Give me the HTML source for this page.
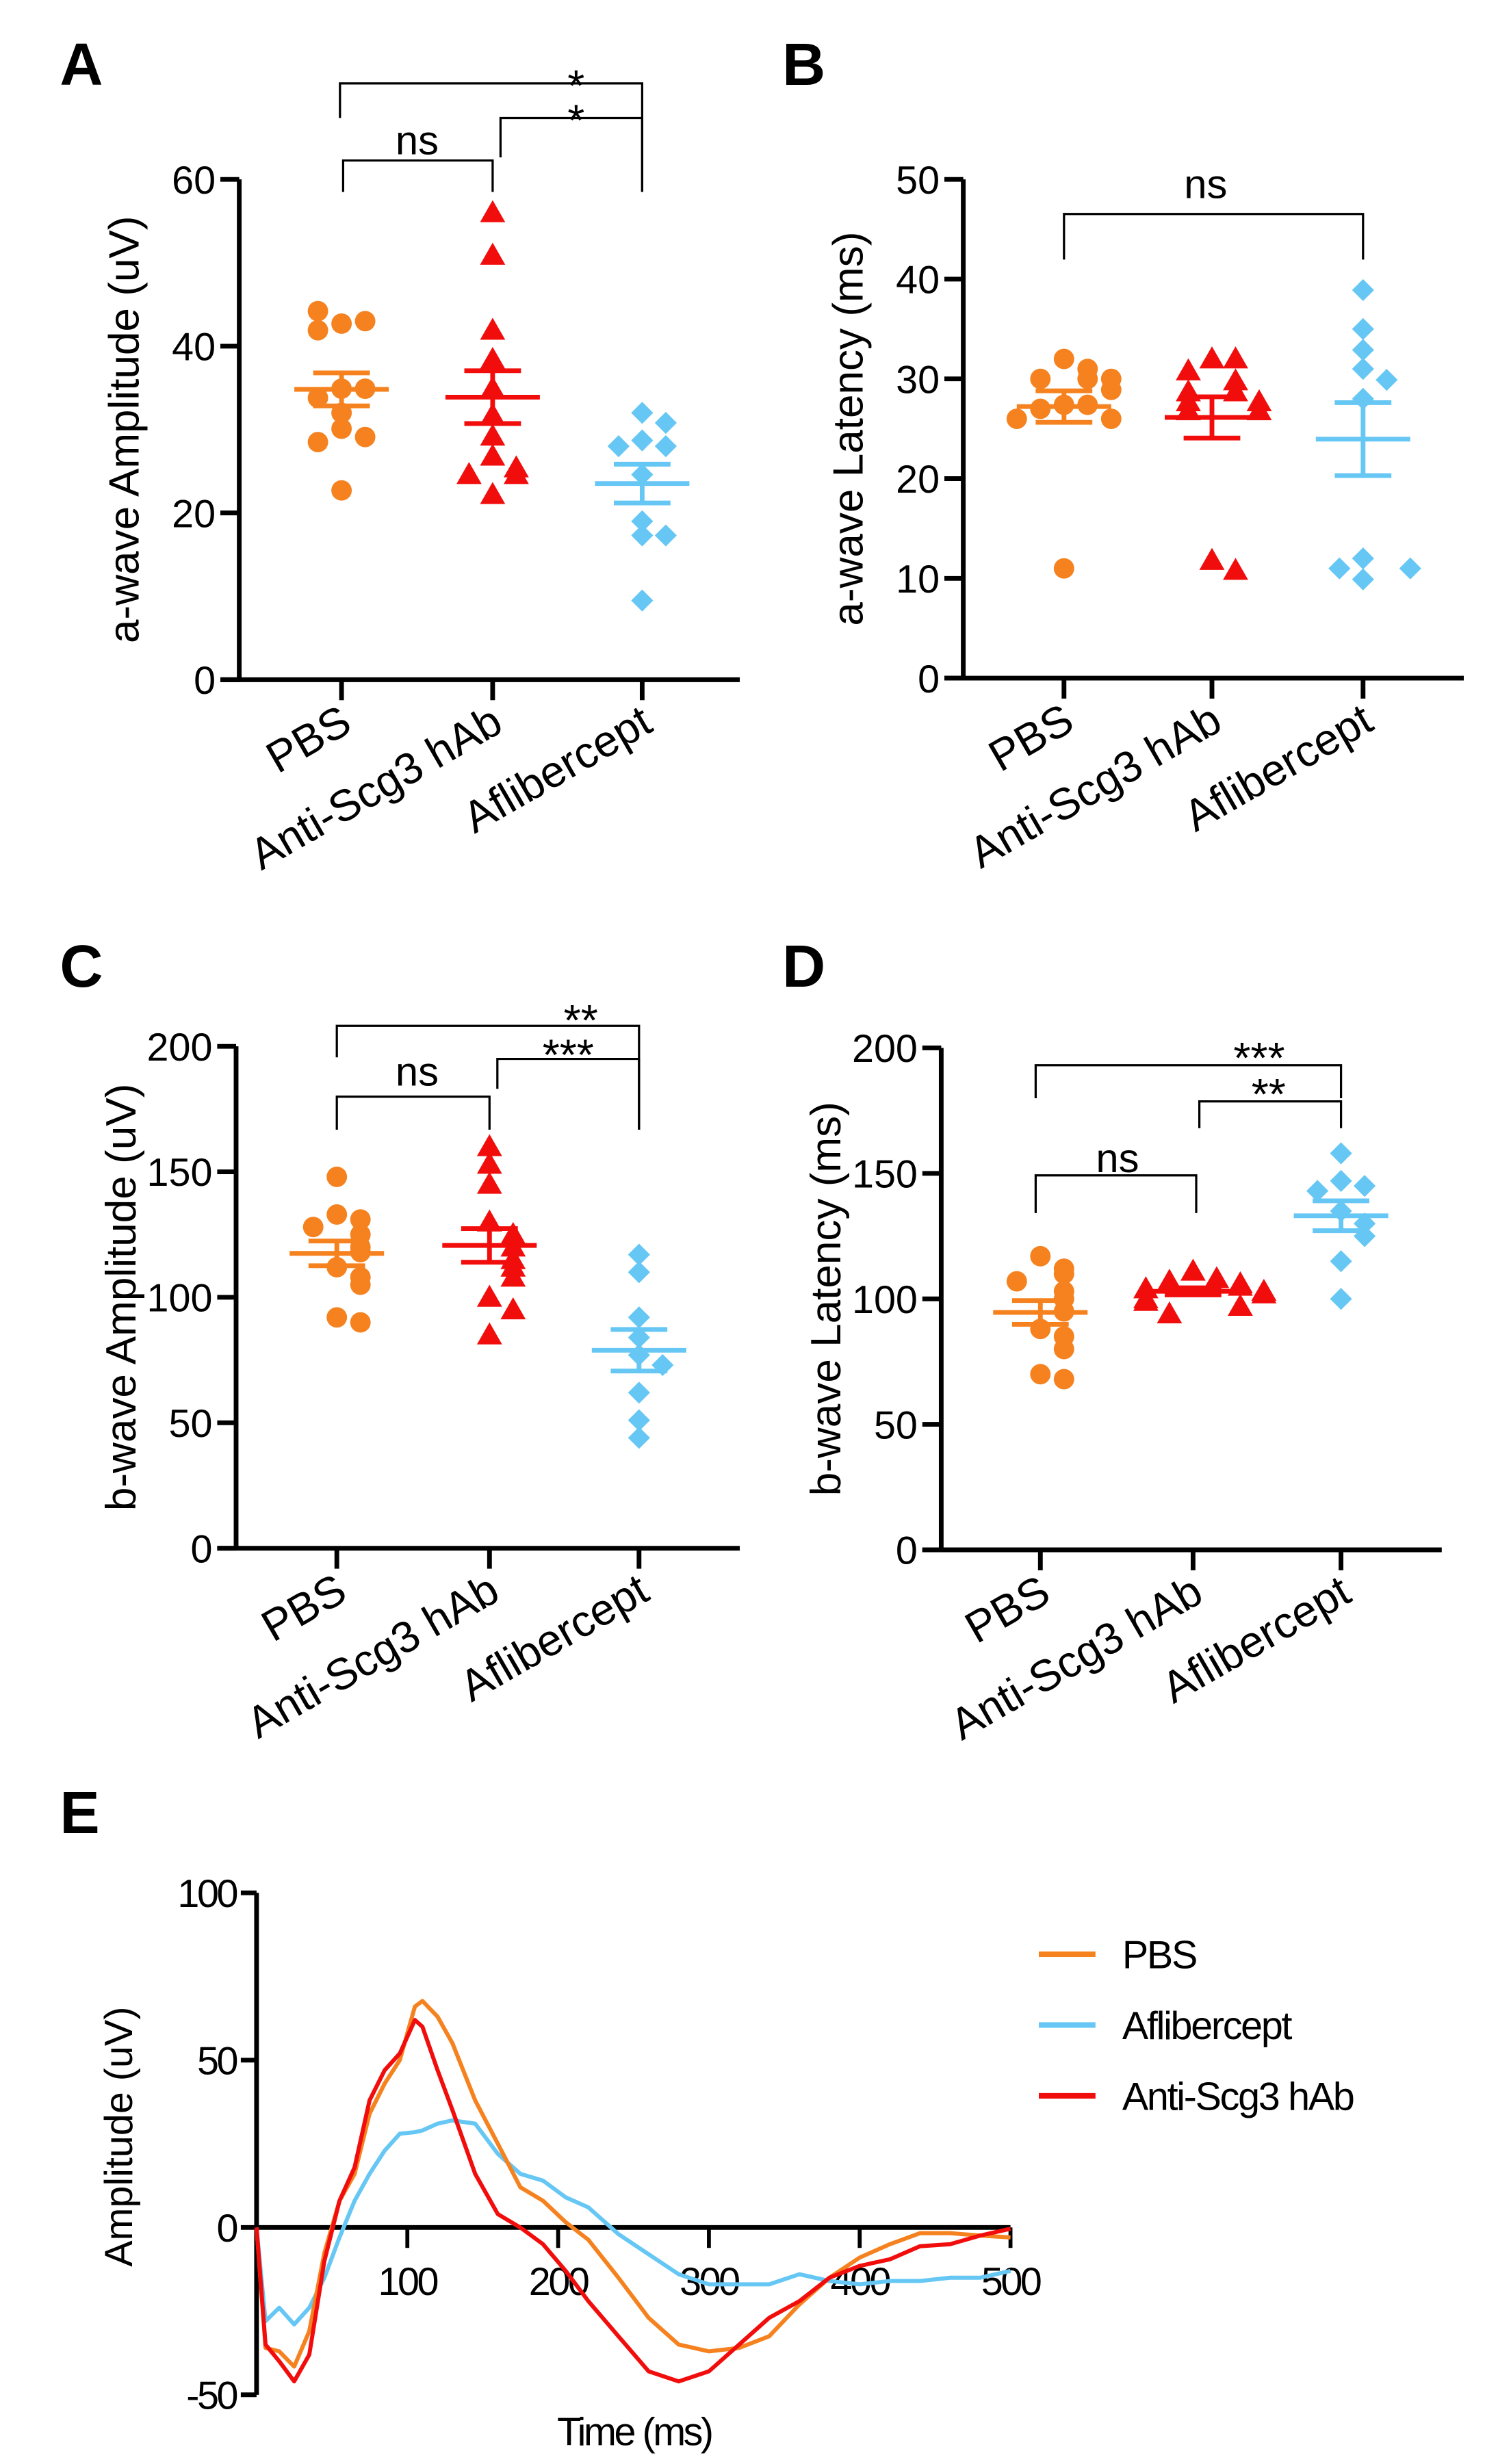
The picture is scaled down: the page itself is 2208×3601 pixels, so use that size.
<!DOCTYPE html>
<html><head><meta charset="utf-8"><style>
html,body{margin:0;padding:0;background:#fff}
svg{display:block}
text{font-family:"Liberation Sans",Arial,sans-serif;fill:#000}
</style></head><body>
<svg id="fig" xmlns="http://www.w3.org/2000/svg" width="2208" height="3601" viewBox="0 0 960 1566" preserveAspectRatio="none"></svg>
<script>
const groups = ["PBS","Anti-Scg3 hAb","Aflibercept"];
const colors = ["#F5821F","#F20D0D","#66C7F4"];
// Panel A: a-wave amplitude
const aPBS = [42.7,43,44.2,41.9,34.9,34.9,33.8,32,30.1,29.1,28.5,22.7];
const aAnti = [56,50.9,41.9,38.4,34.9,31.7,29.2,26.8,25.4,24.6,24.6,22.2];
const aAfl = [32,30.8,28.7,28,28,24.6,19,17.3,17.3,9.5];
const aTicks = [0,20,40,60];
// Panel B: a-wave latency
const bPBS = [32,31,30,30,30,28.9,27.4,27.4,27,26,26,11];
const bAnti = [32,32,30.8,29.8,28.7,28.7,27.7,27.7,26.8,26.8,11.8,10.8];
const bAfl = [38.9,35,32.9,31,29.9,28,12,9.9,11,11];
const bTicks = [0,10,20,30,40,50];
// Panel C: b-wave amplitude
const cPBS = [148,133,131,128,125,120,118,112,108,105,92,90];
const cAnti = [160,153,145,130,125,120,115,112,108,100,95,85];
const cAfl = [117,110,92,84,77,73,62,51,44];
const cTicks = [0,50,100,150,200];
// Panel D: b-wave latency
const dPBS = [117,112,110,107,103,100,95,88,85,80,70,68];
const dAnti = [111,108,107,106,105,104,103,102,100,99,97,94];
const dAfl = [158,147,145,143,135,130,125,115,100];
const dTicks = [0,50,100,150,200];
// Panel E: ERG traces
const eTime = [0,6,15,25,35,45,55,65,75,85,95,105,110,120,130,145,160,175,190,205,220,240,260,280,300,320,340,360,380,400,420,440,460,480,500];
const ePBS = [0,-36,-37,-41.6,-31,-7.6,8,16,34,43,50,66,67.7,63,55,38,25,12,8,1.6,-3.7,-15,-27,-35,-37,-36,-32.5,-23,-15,-9,-5,-1.7,-1.7,-2.4,-3];
const eAnti = [0,-35,-40,-46,-38,-10,8,18,38,47,52,62,60,47,35,16,4,0,-5,-13,-22,-32.5,-43,-46,-43,-35,-27,-22,-15,-11.5,-9.5,-5.6,-5,-2.4,-0.4];
const eAfl = [0,-28,-24,-29,-24,-15,-3,8,16,23,28,28.5,29,31,32,31,22,16,14,9,6,-2,-8,-14,-17,-17,-17,-14,-16,-17,-16,-16,-15,-15,-13];
const eYTicks = [-50,0,50,100];
const eXTicks = [100,200,300,400,500];

const NS="http://www.w3.org/2000/svg";
const fig=document.getElementById('fig');
function mk(tag,attrs,parent,txt){const e=document.createElementNS(NS,tag);for(const k in attrs)e.setAttribute(k,attrs[k]);if(txt!==undefined)e.textContent=txt;(parent||fig).appendChild(e);return e;}

function dotPanel(id,cfg,data,ticks,ymax){
  const g=mk('g',{});
  
  
  const y=v=>cfg.y0-(v/ymax)*(cfg.y0-cfg.yTop);
  const ax=mk('path',{d:`M${cfg.ax} ${cfg.yTop}V${cfg.y0}M${cfg.ax-12} ${cfg.y0}H${cfg.xEnd}`,stroke:'#000','stroke-width':3,fill:'none'},g);
  
  
  ticks.forEach(t=>{
    mk('line',{x1:cfg.ax-12,x2:cfg.ax,y1:y(t),y2:y(t),stroke:'#000','stroke-width':3},g);
    const tl=mk('text',{x:cfg.ax-15,y:y(t)+9,'text-anchor':'end','font-size':25},g,t);
    
    
  });
  const yt=mk('text',{transform:`translate(${cfg.titleX},${(cfg.yTop+cfg.y0)/2}) rotate(-90)`,'text-anchor':'middle','font-size':27},g,cfg.title);
  
  
  const lt=mk('text',{x:cfg.letterX,y:cfg.letterY,'font-size':38,'font-weight':'bold'},g,id.toUpperCase());
  
  
  data.forEach((vals,gi)=>{
    const cx=cfg.cats[gi];
    mk('line',{x1:cx,x2:cx,y1:cfg.y0,y2:cfg.y0+13,stroke:'#000','stroke-width':3},g);
    const cl=mk('text',{transform:`translate(${cx+8},${cfg.y0+32}) rotate(-30)`,'text-anchor':'end','font-size':28},g,groups[gi]);
    
    
    const placed=[];
    vals.forEach((v,i)=>{
      const py=y(v);
      const near=placed.filter(p=>Math.abs(p.y-py)<9);
      const k=near.length;
      const off=k===0?0:(k%2?1:-1)*Math.ceil(k/2)*15;
      placed.push({y:py});
      const px=cx+off;
      let m;
      if(gi===0) m=mk('circle',{cx:px,cy:py,r:6.5,fill:colors[0]},g);
      else if(gi===1) m=mk('path',{d:`M${px} ${py-8}L${px+8} ${py+6}L${px-8} ${py+6}Z`,fill:colors[1]},g);
      else m=mk('path',{d:`M${px} ${py-7}L${px+7} ${py}L${px} ${py+7}L${px-7} ${py}Z`,fill:colors[2]},g);
      
      
    });
    const n=vals.length,mean=vals.reduce((a,b)=>a+b,0)/n;
    const sd=Math.sqrt(vals.reduce((a,b)=>a+(b-mean)**2,0)/(n-1)),sem=sd/Math.sqrt(n);
    const eb=mk('path',{d:`M${cx-30} ${y(mean)}H${cx+30}M${cx} ${y(mean+sem)}V${y(mean-sem)}M${cx-18} ${y(mean+sem)}H${cx+18}M${cx-18} ${y(mean-sem)}H${cx+18}`,stroke:colors[gi],'stroke-width':3,fill:'none'},g);
    
    
  });
  cfg.brackets.forEach(b=>{
    const p=mk('path',{d:`M${b[0]} ${b[3]}V${b[2]}H${b[1]}V${b[4]}`,stroke:'#000','stroke-width':1.4,fill:'none'},g);
    
    
    const t=mk('text',{x:b[5],y:b[6],'text-anchor':'middle','font-size':b[7]==='ns'?26:28},g,b[7]);
    
    
  });
}

dotPanel('a',{ax:152,yTop:114,y0:432,xEnd:470,cats:[217,313,408],titleX:88,title:'a-wave Amplitude (uV)',letterX:38,letterY:54,
  brackets:[[216,408,53,75,122,366,64,'*'],[318,408,75,100,122,366,86,'*'],[218,313,102,122,122,265,98,'ns']]},[aPBS,aAnti,aAfl],aTicks,60);
dotPanel('b',{ax:612,yTop:114,y0:431,xEnd:930,cats:[676,770,866],titleX:548,title:'a-wave Latency (ms)',letterX:497,letterY:54,
  brackets:[[676,866,136,165,165,766,126,'ns']]},[bPBS,bAnti,bAfl],bTicks,50);
dotPanel('c',{ax:150,yTop:665,y0:984,xEnd:470,cats:[214,311,406],titleX:86,title:'b-wave Amplitude (uV)',letterX:38,letterY:627,
  brackets:[[214,406,652,672,718,369,658,'**'],[316,406,673,692,718,361,680,'***'],[214,311,697,718,718,265,690,'ns']]},[cPBS,cAnti,cAfl],cTicks,200);
dotPanel('d',{ax:598,yTop:666,y0:985,xEnd:916,cats:[661,758,852],titleX:534,title:'b-wave Latency (ms)',letterX:497,letterY:627,
  brackets:[[658,852,677,698,698,800,682,'***'],[762,852,700,717,717,806,705,'**'],[658,760,747,771,771,710,745,'ns']]},[dPBS,dAnti,dAfl],dTicks,200);

// Panel E
(function(){
  const g=mk('g',{});
  
  
  const X0=163,X1=642,Y100=1203,Ym50=1522;
  const x=t=>X0+t/500*(X1-X0);
  const y=v=>Y100+(100-v)/150*(Ym50-Y100);
  const lt=mk('text',{x:38,y:1165,'font-size':38,'font-weight':'bold'},g,'E');
  
  
  const ax=mk('path',{d:`M${X0} ${Y100}V${Ym50}M${X0} ${y(0)}H${X1}`,stroke:'#000','stroke-width':3,fill:'none'},g);
  
  
  eYTicks.forEach(t=>{
    mk('line',{x1:X0-10,x2:X0,y1:y(t),y2:y(t),stroke:'#000','stroke-width':3},g);
    const tl=mk('text',{x:X0-13,y:y(t)+9,'text-anchor':'end','font-size':25,'letter-spacing':'-1.5'},g,t);
    
    
  });
  eXTicks.forEach(t=>{
    mk('line',{x1:x(t),x2:x(t),y1:y(0),y2:y(0)+13,stroke:'#000','stroke-width':2.5},g);
    const tl=mk('text',{x:x(t),y:y(0)+43,'text-anchor':'middle','font-size':25,'letter-spacing':'-1.5'},g,t);
    
    
  });
  const yt=mk('text',{transform:`translate(84,1358) rotate(-90)`,'text-anchor':'middle','font-size':25},g,'Amplitude (uV)');
  
  
  const xt=mk('text',{x:403,y:1554,'text-anchor':'middle','font-size':25,'letter-spacing':'-1.5'},g,'Time (ms)');
  
  
  const series=[[eAfl,colors[2],'Aflibercept'],[ePBS,colors[0],'PBS'],[eAnti,colors[1],'Anti-Scg3 hAb']];
  series.forEach(s=>{
    const p=mk('path',{d:s[0].map((v,i)=>(i?'L':'M')+x(eTime[i]).toFixed(1)+' '+y(v).toFixed(1)).join(''),stroke:s[1],'stroke-width':2.6,fill:'none','stroke-linejoin':'round'},g);
    
    
  });
  const leg=[[colors[0],'PBS'],[colors[2],'Aflibercept'],[colors[1],'Anti-Scg3 hAb']];
  leg.forEach((l,i)=>{
    const ly=1242+i*45;
    const e=mk('g',{},g);
    
    
    mk('line',{x1:660,x2:696,y1:ly,y2:ly,stroke:l[0],'stroke-width':3.5},e);
    mk('text',{x:713,y:ly+9,'font-size':25,'letter-spacing':'-1'},e,l[1]);
  });
})();
</script>
</body></html>
